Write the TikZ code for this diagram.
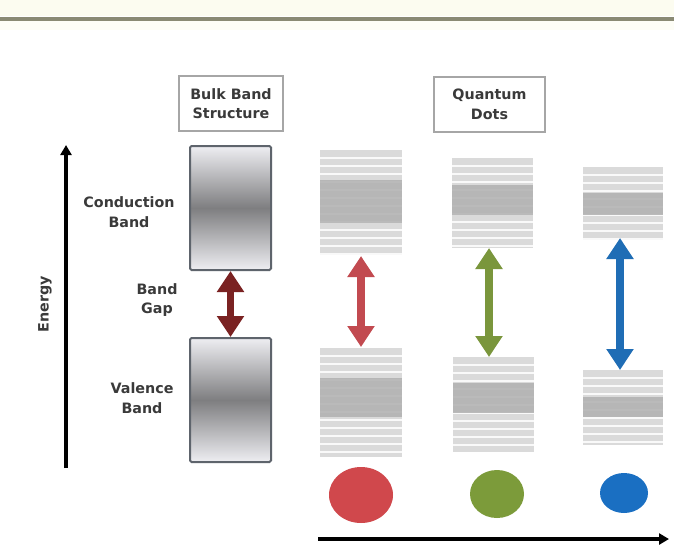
\documentclass[tikz,border=0pt]{standalone}
\usepackage{fontspec}
\setmainfont{DejaVu Sans}
\usetikzlibrary{arrows.meta}
\definecolor{txt}{HTML}{3A3A3A}
\definecolor{topline}{HTML}{8A8A74}
\definecolor{cream}{HTML}{FCFCF0}
\definecolor{qdlight}{HTML}{DADADA}
\definecolor{qddark}{HTML}{B2B2B2}
\definecolor{bulkedge}{HTML}{5E646C}
\definecolor{bulkdark}{HTML}{7E7E80}
\definecolor{bulklight}{HTML}{EEEEF2}
\definecolor{arrdark}{HTML}{7A2222}
\definecolor{arrred}{HTML}{C24A50}
\definecolor{arrgreen}{HTML}{7A963C}
\definecolor{arrblue}{HTML}{1F6DB5}
\definecolor{dotred}{HTML}{D0484C}
\definecolor{dotgreen}{HTML}{7C9B3A}
\definecolor{dotblue}{HTML}{1A6FC2}
\newcommand\qdstack[6]{%
  \fill[qdlight] (#1,#3) rectangle (#2,#4);
  \pgfmathtruncatemacro\qdn{(#4-#3)/8}
  \foreach \k in {1,...,\qdn}{
    \draw[white,line width=1.1pt,opacity=0.85] (#1,#3+\k*8) -- (#2,#3+\k*8);
  }
  \fill[qddark,opacity=0.88] (#1,#5) rectangle (#2,#6);
}
\tikzset{
  lbl/.style={font=\bfseries\fontsize{14.3}{19.5}\selectfont, text=txt, align=center, inner sep=0pt},
  titlebox/.style={draw=gray!70, line width=1.2pt, inner sep=0pt, fill=white},
  bulkbox/.style={draw=bulkedge, line width=2pt, rounded corners=1.5pt, minimum width=81pt, minimum height=124pt,
    top color=bulklight, bottom color=bulklight, middle color=bulkdark, inner sep=0pt},
  stack/.style={inner sep=0pt, outer sep=0pt},
  gaparrow/.style={line width=7.5pt, {Triangle[width=26pt,length=21pt]}-{Triangle[width=26pt,length=21pt]}},
  axisarrow/.style={line width=4pt, -{Triangle[width=11pt,length=10pt]}}
}
\begin{document}
\begin{tikzpicture}[x=1pt,y=-1pt]
\useasboundingbox (0,0) rectangle (674,552);
\fill[white] (0,0) rectangle (674,552);
\fill[cream] (0,0) rectangle (674,16);
\fill[cream!60] (0,21) rectangle (674,30);
\draw[topline, line width=4pt] (0,18.5) -- (674,18.5);

% title boxes
\draw[titlebox] (179,76) rectangle (283,131);
\node[lbl] (tbulk) at (231,103.5) {Bulk Band\\Structure};
\draw[titlebox] (434,77) rectangle (545,132);
\node[lbl] (tqd) at (489.5,104.5) {Quantum\\Dots};

% energy axis
\coordinate (e0) at (66,468);
\coordinate (e1) at (66,145);
\draw[axisarrow] (e0) -- (e1);
\node[lbl, rotate=90] (energy) at (45,304) {Energy};

% labels
\node[lbl] (lcb) at (129,212) {Conduction\\Band};
\node[lbl] (lbg) at (157,300) {Band\\Gap};
\node[lbl] (lvb) at (142,398) {Valence\\Band};

% bulk boxes
\node[bulkbox] (bc) at (230.5,208) {};
\node[bulkbox] (bv) at (230.5,400) {};
\draw[gaparrow, arrdark] (bc.south) -- (bv.north);

% quantum dot stacks
\qdstack{320}{402}{150}{255}{180}{223}
\qdstack{320}{402}{348}{457}{378}{417}
\node[stack, minimum width=82pt, minimum height=105pt] (r1) at (361,202.5) {};
\node[stack, minimum width=82pt, minimum height=109pt] (r2) at (361,402.5) {};
\draw[gaparrow, arrred] ([yshift=-1pt]r1.south) -- ([yshift=1pt]r2.north);

\qdstack{452}{533}{158}{248}{185}{215}
\qdstack{453}{534}{357}{452}{383}{413}
\node[stack, minimum width=81pt, minimum height=90pt] (g1) at (489,203) {};
\node[stack, minimum width=81pt, minimum height=95pt] (g2) at (489,404.5) {};
\draw[gaparrow, arrgreen] (g1.south) -- (g2.north);

\qdstack{583}{663}{167}{240}{193}{215}
\qdstack{583}{663}{370}{445}{397}{417}
\node[stack, minimum width=80pt, minimum height=73pt] (b1) at (620,203.5) {};
\node[stack, minimum width=80pt, minimum height=75pt] (b2) at (620,407.5) {};
\draw[gaparrow, arrblue] ([yshift=2pt]b1.south) -- (b2.north);

% dots
\fill[dotred] (361,495) ellipse [x radius=32, y radius=28];
\fill[dotgreen] (497,494) ellipse [x radius=27, y radius=24];
\fill[dotblue] (624,493) ellipse [x radius=24, y radius=20];

% size axis
\coordinate (s0) at (318,539);
\coordinate (s1) at (669,539);
\draw[axisarrow] (s0) -- (s1);
\end{tikzpicture}
\end{document}
